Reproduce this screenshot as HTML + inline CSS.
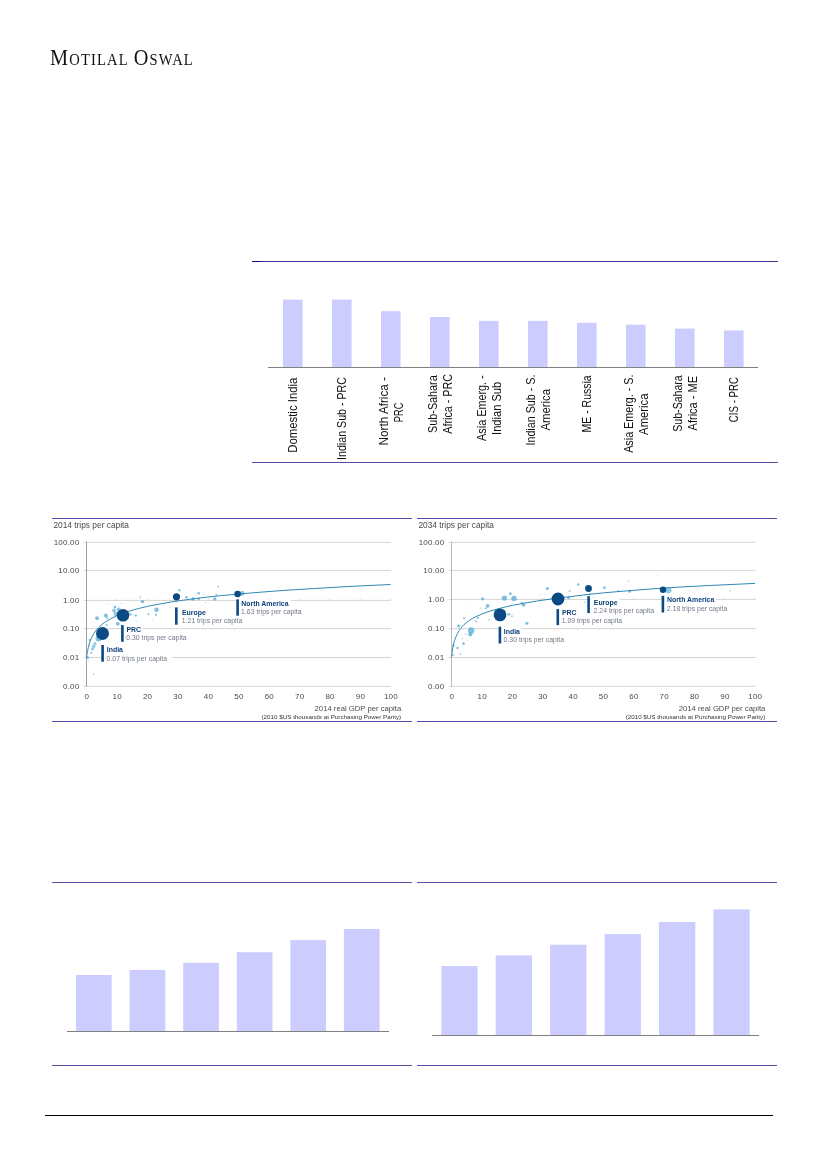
<!DOCTYPE html>
<html lang="en"><head><meta charset="utf-8"><title>Motilal Oswal</title>
<style>
html,body{margin:0;padding:0;background:#fff;}
body{width:827px;height:1169px;overflow:hidden;position:relative;}
svg{position:absolute;left:0;top:0;display:block;}
text{font-family:"Liberation Sans",Arial,sans-serif;}
.logo{font-family:"Liberation Serif","Times New Roman",serif;fill:#111;}
.cat{font-size:12px;fill:#111;}
.ax{font-size:8px;fill:#4a4a4a;letter-spacing:0.2px;}
.ttl{font-size:8.2px;fill:#4a4a4a;}
.nm{font-size:6.9px;font-weight:bold;fill:#0a4079;}
.vl{font-size:6.9px;fill:#727a88;}
.cap1{font-size:7.7px;fill:#4d4d4d;}
.cap2{font-size:6.25px;fill:#333;}
</style></head><body>
<svg width="827" height="1169" viewBox="0 0 827 1169">
<g transform="translate(50 65.2) scale(0.9 1)"><text class="logo" x="0" y="0" letter-spacing="1.3"><tspan font-size="22.6">M</tspan><tspan font-size="16.2">OTILAL</tspan><tspan font-size="16.2"> </tspan><tspan font-size="22.6">O</tspan><tspan font-size="16.2">SWAL</tspan></text></g>
<g shape-rendering="crispEdges">
<rect x="252" y="261" width="8" height="1" fill="#150080"/>
<rect x="260" y="261" width="518" height="1" fill="#3d2f98"/>
<rect x="252" y="462" width="526" height="1" fill="#5a4aa8"/>
</g>
<rect x="283.0" y="299.6" width="19.6" height="67.7" fill="#ccccff"/>
<rect x="332.0" y="299.6" width="19.6" height="67.7" fill="#ccccff"/>
<rect x="381.0" y="311.2" width="19.6" height="56.1" fill="#ccccff"/>
<rect x="430.0" y="317.0" width="19.6" height="50.3" fill="#ccccff"/>
<rect x="479.0" y="320.9" width="19.6" height="46.4" fill="#ccccff"/>
<rect x="528.0" y="320.9" width="19.6" height="46.4" fill="#ccccff"/>
<rect x="577.0" y="322.8" width="19.6" height="44.5" fill="#ccccff"/>
<rect x="626.0" y="324.7" width="19.6" height="42.6" fill="#ccccff"/>
<rect x="675.0" y="328.6" width="19.6" height="38.7" fill="#ccccff"/>
<rect x="724.0" y="330.5" width="19.6" height="36.8" fill="#ccccff"/>
<rect x="268" y="367" width="490" height="1" fill="#808080" shape-rendering="crispEdges"/>
<text class="cat" transform="translate(297.3 415.2) rotate(-90)" text-anchor="middle" textLength="75.1" lengthAdjust="spacingAndGlyphs">Domestic India</text>
<text class="cat" transform="translate(346.3 418.5) rotate(-90)" text-anchor="middle" textLength="83.0" lengthAdjust="spacingAndGlyphs">Indian Sub - PRC</text>
<text class="cat" transform="translate(387.8 411.2) rotate(-90)" text-anchor="middle" textLength="68.4" lengthAdjust="spacingAndGlyphs">North Africa -</text>
<text class="cat" transform="translate(403.0 412.4) rotate(-90)" text-anchor="middle" textLength="19.5" lengthAdjust="spacingAndGlyphs">PRC</text>
<text class="cat" transform="translate(436.8 404.1) rotate(-90)" text-anchor="middle" textLength="57.6" lengthAdjust="spacingAndGlyphs">Sub-Sahara</text>
<text class="cat" transform="translate(452.0 403.9) rotate(-90)" text-anchor="middle" textLength="59.6" lengthAdjust="spacingAndGlyphs">Africa - PRC</text>
<text class="cat" transform="translate(485.8 408.1) rotate(-90)" text-anchor="middle" textLength="65.6" lengthAdjust="spacingAndGlyphs">Asia Emerg. -</text>
<text class="cat" transform="translate(501.0 408.4) rotate(-90)" text-anchor="middle" textLength="53.1" lengthAdjust="spacingAndGlyphs">Indian Sub</text>
<text class="cat" transform="translate(534.8 410.1) rotate(-90)" text-anchor="middle" textLength="70.9" lengthAdjust="spacingAndGlyphs">Indian Sub - S.</text>
<text class="cat" transform="translate(550.0 409.8) rotate(-90)" text-anchor="middle" textLength="41.4" lengthAdjust="spacingAndGlyphs">America</text>
<text class="cat" transform="translate(591.3 403.9) rotate(-90)" text-anchor="middle" textLength="57.1" lengthAdjust="spacingAndGlyphs">ME - Russia</text>
<text class="cat" transform="translate(632.8 413.7) rotate(-90)" text-anchor="middle" textLength="78.2" lengthAdjust="spacingAndGlyphs">Asia Emerg. - S.</text>
<text class="cat" transform="translate(648.0 414.2) rotate(-90)" text-anchor="middle" textLength="41.4" lengthAdjust="spacingAndGlyphs">America</text>
<text class="cat" transform="translate(681.8 403.5) rotate(-90)" text-anchor="middle" textLength="56.4" lengthAdjust="spacingAndGlyphs">Sub-Sahara</text>
<text class="cat" transform="translate(697.0 403.2) rotate(-90)" text-anchor="middle" textLength="54.5" lengthAdjust="spacingAndGlyphs">Africa - ME</text>
<text class="cat" transform="translate(738.3 399.6) rotate(-90)" text-anchor="middle" textLength="45.1" lengthAdjust="spacingAndGlyphs">CIS - PRC</text>
<g>
<g shape-rendering="crispEdges">
<rect x="52" y="518" width="360" height="1" fill="#5a48ac"/>
<rect x="52" y="721" width="360" height="1" fill="#5a48ac"/>
</g>
<g style="filter:blur(0.32px)">
<text class="ttl" x="53.4" y="527.7" textLength="75.6" lengthAdjust="spacingAndGlyphs">2014 trips per capita</text>
<line x1="83.7" y1="542.3" x2="391.1" y2="542.3" stroke="#c6c6c6" stroke-width="0.75"/>
<text class="ax" x="79.4" y="545.0" text-anchor="end">100.00</text>
<line x1="83.7" y1="570.4" x2="391.1" y2="570.4" stroke="#c6c6c6" stroke-width="0.75"/>
<text class="ax" x="79.4" y="573.1" text-anchor="end">10.00</text>
<line x1="83.7" y1="600.4" x2="391.1" y2="600.4" stroke="#c6c6c6" stroke-width="0.75"/>
<text class="ax" x="79.4" y="603.1" text-anchor="end">1.00</text>
<line x1="83.7" y1="628.7" x2="391.1" y2="628.7" stroke="#c6c6c6" stroke-width="0.75"/>
<text class="ax" x="79.4" y="631.4" text-anchor="end">0.10</text>
<line x1="83.7" y1="657.5" x2="391.1" y2="657.5" stroke="#c6c6c6" stroke-width="0.75"/>
<text class="ax" x="79.4" y="660.2" text-anchor="end">0.01</text>
<line x1="83.7" y1="686.3" x2="391.1" y2="686.3" stroke="#c6c6c6" stroke-width="0.75"/>
<text class="ax" x="79.4" y="689.0" text-anchor="end">0.00</text>
<line x1="86.5" y1="541.6" x2="86.5" y2="686.7" stroke="#939393" stroke-width="0.9"/>
<line x1="116.9" y1="598.7" x2="116.9" y2="600.4" stroke="#cfcfcf" stroke-width="0.7"/>
<line x1="147.3" y1="598.7" x2="147.3" y2="600.4" stroke="#cfcfcf" stroke-width="0.7"/>
<line x1="177.7" y1="598.7" x2="177.7" y2="600.4" stroke="#cfcfcf" stroke-width="0.7"/>
<line x1="208.1" y1="598.7" x2="208.1" y2="600.4" stroke="#cfcfcf" stroke-width="0.7"/>
<line x1="238.6" y1="598.7" x2="238.6" y2="600.4" stroke="#cfcfcf" stroke-width="0.7"/>
<line x1="269.0" y1="598.7" x2="269.0" y2="600.4" stroke="#cfcfcf" stroke-width="0.7"/>
<line x1="299.4" y1="598.7" x2="299.4" y2="600.4" stroke="#cfcfcf" stroke-width="0.7"/>
<line x1="329.8" y1="598.7" x2="329.8" y2="600.4" stroke="#cfcfcf" stroke-width="0.7"/>
<line x1="360.2" y1="598.7" x2="360.2" y2="600.4" stroke="#cfcfcf" stroke-width="0.7"/>
<line x1="390.6" y1="598.7" x2="390.6" y2="600.4" stroke="#cfcfcf" stroke-width="0.7"/>
<text class="ax" x="86.8" y="698.5" text-anchor="middle" letter-spacing="0">0</text>
<text class="ax" x="117.2" y="698.5" text-anchor="middle" letter-spacing="0">10</text>
<text class="ax" x="147.6" y="698.5" text-anchor="middle" letter-spacing="0">20</text>
<text class="ax" x="178.0" y="698.5" text-anchor="middle" letter-spacing="0">30</text>
<text class="ax" x="208.4" y="698.5" text-anchor="middle" letter-spacing="0">40</text>
<text class="ax" x="238.9" y="698.5" text-anchor="middle" letter-spacing="0">50</text>
<text class="ax" x="269.3" y="698.5" text-anchor="middle" letter-spacing="0">60</text>
<text class="ax" x="299.7" y="698.5" text-anchor="middle" letter-spacing="0">70</text>
<text class="ax" x="330.1" y="698.5" text-anchor="middle" letter-spacing="0">80</text>
<text class="ax" x="360.5" y="698.5" text-anchor="middle" letter-spacing="0">90</text>
<text class="ax" x="390.9" y="698.5" text-anchor="middle" letter-spacing="0">100</text>
<rect x="103.9" y="645.8" width="21.0" height="8" fill="#fff"/>
<rect x="103.9" y="654.4" width="68.0" height="8" fill="#fff"/>
<rect x="123.7" y="625.6" width="19.3" height="8" fill="#fff"/>
<rect x="123.7" y="634.1" width="67.8" height="8" fill="#fff"/>
<rect x="177.6" y="608.6" width="30.2" height="8" fill="#fff"/>
<rect x="177.6" y="616.8" width="69.5" height="8" fill="#fff"/>
<rect x="238.9" y="599.7" width="51.7" height="8" fill="#fff"/>
<rect x="238.9" y="607.6" width="67.5" height="8" fill="#fff"/>
<circle cx="114.0" cy="610.5" r="1.9" fill="#5fafd8" fill-opacity="0.70"/>
<circle cx="115.9" cy="613.9" r="2.4" fill="#5fafd8" fill-opacity="0.70"/>
<circle cx="118.8" cy="609.5" r="2.1" fill="#5fafd8" fill-opacity="0.70"/>
<circle cx="114.9" cy="607.1" r="1.35" fill="#5fafd8" fill-opacity="0.80"/>
<circle cx="105.8" cy="615.5" r="1.9" fill="#5fafd8" fill-opacity="0.80"/>
<circle cx="107.2" cy="617.7" r="1" fill="#5fafd8" fill-opacity="0.80"/>
<circle cx="97.1" cy="618.2" r="1.9" fill="#5fafd8" fill-opacity="0.80"/>
<circle cx="117.8" cy="623.8" r="1.9" fill="#5fafd8" fill-opacity="0.80"/>
<circle cx="130.4" cy="614.3" r="1.35" fill="#5fafd8" fill-opacity="0.70"/>
<circle cx="135.7" cy="615.5" r="1.15" fill="#5fafd8" fill-opacity="0.80"/>
<circle cx="142.5" cy="601.6" r="1.7" fill="#5fafd8" fill-opacity="0.90"/>
<circle cx="140.4" cy="597.4" r="0.8" fill="#5fafd8" fill-opacity="0.80"/>
<circle cx="156.5" cy="609.7" r="2.3" fill="#5fafd8" fill-opacity="0.80"/>
<circle cx="148.6" cy="614.3" r="1" fill="#5fafd8" fill-opacity="0.80"/>
<circle cx="156.0" cy="614.8" r="1.1" fill="#5fafd8" fill-opacity="0.80"/>
<circle cx="98.5" cy="638.5" r="2.9" fill="#5fafd8" fill-opacity="0.80"/>
<circle cx="95.0" cy="643.5" r="1.5" fill="#5fafd8" fill-opacity="0.70"/>
<circle cx="93.7" cy="646.3" r="1.8" fill="#5fafd8" fill-opacity="0.70"/>
<circle cx="92.5" cy="649.0" r="1.5" fill="#5fafd8" fill-opacity="0.70"/>
<circle cx="89.8" cy="640.0" r="1.3" fill="#5fafd8" fill-opacity="0.70"/>
<circle cx="91.3" cy="653.0" r="1" fill="#5fafd8" fill-opacity="0.80"/>
<circle cx="87.4" cy="657.4" r="1.5" fill="#5fafd8" fill-opacity="0.90"/>
<circle cx="106.7" cy="625.0" r="1" fill="#5fafd8" fill-opacity="0.70"/>
<circle cx="136.2" cy="620.6" r="0.5" fill="#5fafd8" fill-opacity="0.70"/>
<circle cx="152.2" cy="620.6" r="0.5" fill="#5fafd8" fill-opacity="0.70"/>
<circle cx="95.6" cy="611.9" r="0.4" fill="#5fafd8" fill-opacity="0.60"/>
<circle cx="102.4" cy="612.4" r="0.4" fill="#5fafd8" fill-opacity="0.60"/>
<circle cx="93.7" cy="626.0" r="0.4" fill="#5fafd8" fill-opacity="0.60"/>
<circle cx="179.3" cy="590.3" r="1.2" fill="#5fafd8" fill-opacity="0.70"/>
<circle cx="186.5" cy="597.3" r="1.3" fill="#5fafd8" fill-opacity="0.80"/>
<circle cx="193.0" cy="599.0" r="1.7" fill="#5fafd8" fill-opacity="0.90"/>
<circle cx="198.6" cy="593.2" r="1.3" fill="#5fafd8" fill-opacity="0.80"/>
<circle cx="198.8" cy="599.0" r="1.2" fill="#5fafd8" fill-opacity="0.80"/>
<circle cx="214.8" cy="599.0" r="1.7" fill="#5fafd8" fill-opacity="0.80"/>
<circle cx="216.3" cy="594.7" r="0.9" fill="#5fafd8" fill-opacity="0.80"/>
<circle cx="218.0" cy="586.7" r="0.9" fill="#5fafd8" fill-opacity="0.70"/>
<circle cx="242.2" cy="593.4" r="2.3" fill="#5fafd8" fill-opacity="0.80"/>
<circle cx="93.5" cy="674.2" r="0.7" fill="#5fafd8" fill-opacity="0.90"/>
<circle cx="88.5" cy="661.0" r="0.6" fill="#5fafd8" fill-opacity="0.60"/>
<circle cx="109.0" cy="604.0" r="0.5" fill="#5fafd8" fill-opacity="0.60"/>
<circle cx="128.0" cy="600.0" r="0.5" fill="#5fafd8" fill-opacity="0.60"/>
<circle cx="165.0" cy="592.0" r="0.5" fill="#5fafd8" fill-opacity="0.60"/>
<circle cx="205.7" cy="602.6" r="0.6" fill="#5fafd8" fill-opacity="0.70"/>
<circle cx="228.0" cy="597.0" r="0.5" fill="#5fafd8" fill-opacity="0.60"/>
<circle cx="170.0" cy="607.0" r="0.5" fill="#5fafd8" fill-opacity="0.60"/>
<circle cx="121.0" cy="603.5" r="0.6" fill="#5fafd8" fill-opacity="0.60"/>
<circle cx="184.3" cy="584.5" r="0.4" fill="#5fafd8" fill-opacity="0.60"/>
<circle cx="244.0" cy="583.0" r="0.3" fill="#5fafd8" fill-opacity="0.60"/>
<circle cx="258.0" cy="580.0" r="0.3" fill="#5fafd8" fill-opacity="0.60"/>
<polyline points="86.5,657.4 86.6,656.8 86.7,656.2 86.8,655.4 87.0,654.4 87.1,653.5 87.4,651.7 87.9,649.4 88.3,647.4 88.9,645.0 89.5,643.0 90.5,640.4 91.4,638.3 92.6,635.8 94.1,633.2 95.6,631.1 97.1,629.2 98.7,627.5 101.7,624.7 104.7,622.4 107.8,620.4 110.8,618.7 116.9,615.7 123.0,613.3 129.1,611.2 138.2,608.6 147.3,606.4 159.5,604.0 171.6,601.9 186.9,599.7 202.1,597.7 220.3,595.7 238.6,594.0 262.9,592.0 287.2,590.2 314.6,588.5 345.0,586.7 390.6,584.5" fill="none" stroke="#2f88b3" stroke-width="1" stroke-linejoin="round"/>
<circle cx="102.5" cy="633.5" r="6.5" fill="#0b4a82"/>
<rect x="101.3" y="645" width="2.6" height="16.7" fill="#0b4a82"/>
<text class="nm" x="106.8" y="652">India</text>
<text class="vl" x="106.6" y="660.5">0.07 trips per capita</text>
<circle cx="123.0" cy="615.3" r="6.3" fill="#0b4a82"/>
<rect x="121.1" y="625.1" width="2.6" height="16.7" fill="#0b4a82"/>
<text class="nm" x="126.4" y="631.8">PRC</text>
<text class="vl" x="126.2" y="640.2">0.30 trips per capita</text>
<circle cx="176.5" cy="596.8" r="3.6" fill="#0b4a82"/>
<rect x="175.0" y="607.4" width="2.6" height="17.3" fill="#0b4a82"/>
<text class="nm" x="182" y="614.8">Europe</text>
<text class="vl" x="181.8" y="622.9">1.21 trips per capita</text>
<circle cx="237.6" cy="594.0" r="3.3" fill="#0b4a82"/>
<rect x="236.3" y="599.4" width="2.6" height="16.3" fill="#0b4a82"/>
<text class="nm" x="241.3" y="605.9">North America</text>
<text class="vl" x="241.1" y="613.7">1.63 trips per capita</text>
<text class="cap1" x="401.2" y="710.9" text-anchor="end">2014 real GDP per capita</text>
<text class="cap2" x="401.2" y="718.6" text-anchor="end">(2010 $US thousands at Purchasing Power Parity)</text>
</g>
</g>
<g>
<g shape-rendering="crispEdges">
<rect x="417" y="518" width="360" height="1" fill="#5a48ac"/>
<rect x="417" y="721" width="360" height="1" fill="#5a48ac"/>
</g>
<g style="filter:blur(0.32px)">
<text class="ttl" x="418.4" y="527.7" textLength="75.6" lengthAdjust="spacingAndGlyphs">2034 trips per capita</text>
<line x1="448.7" y1="542.3" x2="755.5" y2="542.3" stroke="#c6c6c6" stroke-width="0.75"/>
<text class="ax" x="444.4" y="545.0" text-anchor="end">100.00</text>
<line x1="448.7" y1="570.4" x2="755.5" y2="570.4" stroke="#c6c6c6" stroke-width="0.75"/>
<text class="ax" x="444.4" y="573.1" text-anchor="end">10.00</text>
<line x1="448.7" y1="599.4" x2="755.5" y2="599.4" stroke="#c6c6c6" stroke-width="0.75"/>
<text class="ax" x="444.4" y="602.1" text-anchor="end">1.00</text>
<line x1="448.7" y1="628.7" x2="755.5" y2="628.7" stroke="#c6c6c6" stroke-width="0.75"/>
<text class="ax" x="444.4" y="631.4" text-anchor="end">0.10</text>
<line x1="448.7" y1="657.5" x2="755.5" y2="657.5" stroke="#c6c6c6" stroke-width="0.75"/>
<text class="ax" x="444.4" y="660.2" text-anchor="end">0.01</text>
<line x1="448.7" y1="686.3" x2="755.5" y2="686.3" stroke="#c6c6c6" stroke-width="0.75"/>
<text class="ax" x="444.4" y="689.0" text-anchor="end">0.00</text>
<line x1="451.5" y1="541.6" x2="451.5" y2="686.7" stroke="#b4b4b4" stroke-width="0.9"/>
<line x1="481.9" y1="597.7" x2="481.9" y2="599.4" stroke="#cfcfcf" stroke-width="0.7"/>
<line x1="512.2" y1="597.7" x2="512.2" y2="599.4" stroke="#cfcfcf" stroke-width="0.7"/>
<line x1="542.5" y1="597.7" x2="542.5" y2="599.4" stroke="#cfcfcf" stroke-width="0.7"/>
<line x1="572.9" y1="597.7" x2="572.9" y2="599.4" stroke="#cfcfcf" stroke-width="0.7"/>
<line x1="603.2" y1="597.7" x2="603.2" y2="599.4" stroke="#cfcfcf" stroke-width="0.7"/>
<line x1="633.6" y1="597.7" x2="633.6" y2="599.4" stroke="#cfcfcf" stroke-width="0.7"/>
<line x1="664.0" y1="597.7" x2="664.0" y2="599.4" stroke="#cfcfcf" stroke-width="0.7"/>
<line x1="694.3" y1="597.7" x2="694.3" y2="599.4" stroke="#cfcfcf" stroke-width="0.7"/>
<line x1="724.7" y1="597.7" x2="724.7" y2="599.4" stroke="#cfcfcf" stroke-width="0.7"/>
<line x1="755.0" y1="597.7" x2="755.0" y2="599.4" stroke="#cfcfcf" stroke-width="0.7"/>
<text class="ax" x="451.8" y="698.5" text-anchor="middle" letter-spacing="0">0</text>
<text class="ax" x="482.2" y="698.5" text-anchor="middle" letter-spacing="0">10</text>
<text class="ax" x="512.5" y="698.5" text-anchor="middle" letter-spacing="0">20</text>
<text class="ax" x="542.8" y="698.5" text-anchor="middle" letter-spacing="0">30</text>
<text class="ax" x="573.2" y="698.5" text-anchor="middle" letter-spacing="0">40</text>
<text class="ax" x="603.5" y="698.5" text-anchor="middle" letter-spacing="0">50</text>
<text class="ax" x="633.9" y="698.5" text-anchor="middle" letter-spacing="0">60</text>
<text class="ax" x="664.2" y="698.5" text-anchor="middle" letter-spacing="0">70</text>
<text class="ax" x="694.6" y="698.5" text-anchor="middle" letter-spacing="0">80</text>
<text class="ax" x="725.0" y="698.5" text-anchor="middle" letter-spacing="0">90</text>
<text class="ax" x="755.3" y="698.5" text-anchor="middle" letter-spacing="0">100</text>
<rect x="501.2" y="627.3" width="20.7" height="8" fill="#fff"/>
<rect x="501.2" y="635.5" width="67.7" height="8" fill="#fff"/>
<rect x="559.1" y="608.7" width="19.4" height="8" fill="#fff"/>
<rect x="559.1" y="617.0" width="67.9" height="8" fill="#fff"/>
<rect x="589.9" y="599.0" width="29.7" height="8" fill="#fff"/>
<rect x="589.9" y="607.1" width="69.0" height="8" fill="#fff"/>
<rect x="664.2" y="595.6" width="52.1" height="8" fill="#fff"/>
<rect x="664.2" y="604.4" width="67.9" height="8" fill="#fff"/>
<circle cx="482.6" cy="598.8" r="1.6" fill="#5fafd8" fill-opacity="0.80"/>
<circle cx="487.7" cy="605.8" r="1.9" fill="#5fafd8" fill-opacity="0.80"/>
<circle cx="486.0" cy="608.2" r="1" fill="#5fafd8" fill-opacity="0.80"/>
<circle cx="504.4" cy="598.1" r="2.6" fill="#5fafd8" fill-opacity="0.80"/>
<circle cx="514.0" cy="598.5" r="2.7" fill="#5fafd8" fill-opacity="0.80"/>
<circle cx="510.4" cy="593.7" r="1.35" fill="#5fafd8" fill-opacity="0.80"/>
<circle cx="523.5" cy="604.8" r="1.9" fill="#5fafd8" fill-opacity="0.80"/>
<circle cx="521.6" cy="602.9" r="1.1" fill="#5fafd8" fill-opacity="0.70"/>
<circle cx="526.9" cy="623.2" r="1.5" fill="#5fafd8" fill-opacity="0.80"/>
<circle cx="471.2" cy="630.5" r="3.2" fill="#5fafd8" fill-opacity="0.80"/>
<circle cx="470.3" cy="634.3" r="2.1" fill="#5fafd8" fill-opacity="0.80"/>
<circle cx="508.8" cy="614.3" r="1.35" fill="#5fafd8" fill-opacity="0.80"/>
<circle cx="511.9" cy="616.1" r="0.9" fill="#5fafd8" fill-opacity="0.80"/>
<circle cx="458.7" cy="626.1" r="1.5" fill="#5fafd8" fill-opacity="0.80"/>
<circle cx="464.0" cy="618.2" r="1" fill="#5fafd8" fill-opacity="0.80"/>
<circle cx="478.0" cy="617.9" r="1.1" fill="#5fafd8" fill-opacity="0.80"/>
<circle cx="476.1" cy="621.3" r="1" fill="#5fafd8" fill-opacity="0.80"/>
<circle cx="463.5" cy="643.7" r="1.35" fill="#5fafd8" fill-opacity="0.80"/>
<circle cx="457.5" cy="647.9" r="1.2" fill="#5fafd8" fill-opacity="0.80"/>
<circle cx="460.4" cy="654.1" r="0.8" fill="#5fafd8" fill-opacity="0.80"/>
<circle cx="453.4" cy="645.4" r="1.2" fill="#5fafd8" fill-opacity="0.80"/>
<circle cx="452.9" cy="655.1" r="1" fill="#5fafd8" fill-opacity="0.80"/>
<circle cx="489.1" cy="619.8" r="0.8" fill="#5fafd8" fill-opacity="0.70"/>
<circle cx="480.4" cy="608.2" r="0.6" fill="#5fafd8" fill-opacity="0.70"/>
<circle cx="462.5" cy="638.7" r="0.6" fill="#5fafd8" fill-opacity="0.70"/>
<circle cx="467.4" cy="640.1" r="0.5" fill="#5fafd8" fill-opacity="0.70"/>
<circle cx="465.9" cy="634.3" r="0.7" fill="#5fafd8" fill-opacity="0.70"/>
<circle cx="520.6" cy="628.0" r="0.5" fill="#5fafd8" fill-opacity="0.80"/>
<circle cx="464.5" cy="605.6" r="0.4" fill="#5fafd8" fill-opacity="0.60"/>
<circle cx="469.8" cy="603.4" r="0.3" fill="#5fafd8" fill-opacity="0.60"/>
<circle cx="461.6" cy="612.1" r="0.3" fill="#5fafd8" fill-opacity="0.60"/>
<circle cx="547.4" cy="588.4" r="1.5" fill="#5fafd8" fill-opacity="0.80"/>
<circle cx="568.6" cy="597.7" r="1.5" fill="#5fafd8" fill-opacity="0.80"/>
<circle cx="578.3" cy="584.5" r="1.2" fill="#5fafd8" fill-opacity="0.80"/>
<circle cx="569.6" cy="590.9" r="1" fill="#5fafd8" fill-opacity="0.70"/>
<circle cx="668.5" cy="590.2" r="3" fill="#5fafd8" fill-opacity="0.70"/>
<circle cx="604.5" cy="587.7" r="1.4" fill="#5fafd8" fill-opacity="0.80"/>
<circle cx="618.0" cy="591.0" r="1" fill="#5fafd8" fill-opacity="0.70"/>
<circle cx="629.6" cy="591.2" r="1.5" fill="#5fafd8" fill-opacity="0.80"/>
<circle cx="628.5" cy="581.0" r="0.8" fill="#5fafd8" fill-opacity="0.70"/>
<circle cx="584.5" cy="602.0" r="0.7" fill="#5fafd8" fill-opacity="0.70"/>
<circle cx="730.0" cy="591.0" r="0.7" fill="#5fafd8" fill-opacity="0.70"/>
<circle cx="658.0" cy="575.0" r="0.5" fill="#5fafd8" fill-opacity="0.60"/>
<circle cx="720.0" cy="577.0" r="0.5" fill="#5fafd8" fill-opacity="0.60"/>
<circle cx="540.0" cy="595.0" r="0.6" fill="#5fafd8" fill-opacity="0.60"/>
<circle cx="590.0" cy="594.0" r="1" fill="#5fafd8" fill-opacity="0.70"/>
<polyline points="451.5,657.4 451.6,656.5 451.7,655.6 451.8,654.5 452.0,653.2 452.1,652.1 452.4,650.1 452.9,647.5 453.3,645.3 453.9,642.9 454.5,640.8 455.4,638.1 456.4,635.9 457.6,633.3 459.1,630.6 460.6,628.5 462.1,626.7 463.6,625.1 466.7,622.4 469.7,620.2 472.7,618.3 475.8,616.7 481.9,614.0 487.9,611.8 494.0,609.9 503.1,607.5 512.2,605.4 524.3,603.2 536.5,601.1 551.7,598.9 566.8,597.1 585.0,594.8 603.2,592.9 627.5,590.8 651.8,588.9 679.1,587.1 709.5,585.5 755.0,583.4" fill="none" stroke="#2f88b3" stroke-width="1" stroke-linejoin="round"/>
<circle cx="500" cy="614.9" r="6.4" fill="#0b4a82"/>
<rect x="498.6" y="626.7" width="2.6" height="16.8" fill="#0b4a82"/>
<text class="nm" x="503.8" y="633.5">India</text>
<text class="vl" x="503.6" y="641.6">0.30 trips per capita</text>
<circle cx="558" cy="599" r="6.4" fill="#0b4a82"/>
<rect x="556.5" y="609.1" width="2.6" height="16.0" fill="#0b4a82"/>
<text class="nm" x="561.9" y="614.9">PRC</text>
<text class="vl" x="561.7" y="623.1">1.09 trips per capita</text>
<circle cx="588.5" cy="588.5" r="3.4" fill="#0b4a82"/>
<rect x="587.3" y="596.2" width="2.6" height="16.9" fill="#0b4a82"/>
<text class="nm" x="593.8" y="605.2">Europe</text>
<text class="vl" x="593.6" y="613.2">2.24 trips per capita</text>
<circle cx="663" cy="589.7" r="3.2" fill="#0b4a82"/>
<rect x="661.6" y="595.8" width="2.6" height="16.7" fill="#0b4a82"/>
<text class="nm" x="667" y="601.8">North America</text>
<text class="vl" x="666.8" y="610.5">2.18 trips per capita</text>
<text class="cap1" x="765.3" y="710.9" text-anchor="end">2014 real GDP per capita</text>
<text class="cap2" x="765.3" y="718.6" text-anchor="end">(2010 $US thousands at Purchasing Power Parity)</text>
</g>
</g>
<g shape-rendering="crispEdges">
<rect x="52" y="882" width="360" height="1" fill="#5c4eaa"/>
<rect x="52" y="1065" width="360" height="1" fill="#5c4eaa"/>
<rect x="417" y="882" width="360" height="1" fill="#5c4eaa"/>
<rect x="417" y="1065" width="360" height="1" fill="#5c4eaa"/>
</g>
<rect x="76.0" y="975.0" width="35.7" height="56.0" fill="#ccccff"/>
<rect x="129.6" y="969.9" width="35.7" height="61.1" fill="#ccccff"/>
<rect x="183.2" y="962.9" width="35.7" height="68.1" fill="#ccccff"/>
<rect x="236.8" y="952.2" width="35.7" height="78.8" fill="#ccccff"/>
<rect x="290.4" y="940.1" width="35.7" height="90.9" fill="#ccccff"/>
<rect x="343.9" y="929.0" width="35.7" height="102.0" fill="#ccccff"/>
<rect x="67" y="1031" width="322" height="1" fill="#808080" shape-rendering="crispEdges"/>
<rect x="441.3" y="966.0" width="36.3" height="69.0" fill="#ccccff"/>
<rect x="495.7" y="955.4" width="36.3" height="79.6" fill="#ccccff"/>
<rect x="550.1" y="944.7" width="36.3" height="90.3" fill="#ccccff"/>
<rect x="604.6" y="934.1" width="36.3" height="100.9" fill="#ccccff"/>
<rect x="659.0" y="922.0" width="36.3" height="113.0" fill="#ccccff"/>
<rect x="713.4" y="909.4" width="36.3" height="125.6" fill="#ccccff"/>
<rect x="432" y="1035" width="327" height="1" fill="#808080" shape-rendering="crispEdges"/>
<rect x="45" y="1115" width="728" height="1" fill="#000" shape-rendering="crispEdges"/>
</svg></body></html>
